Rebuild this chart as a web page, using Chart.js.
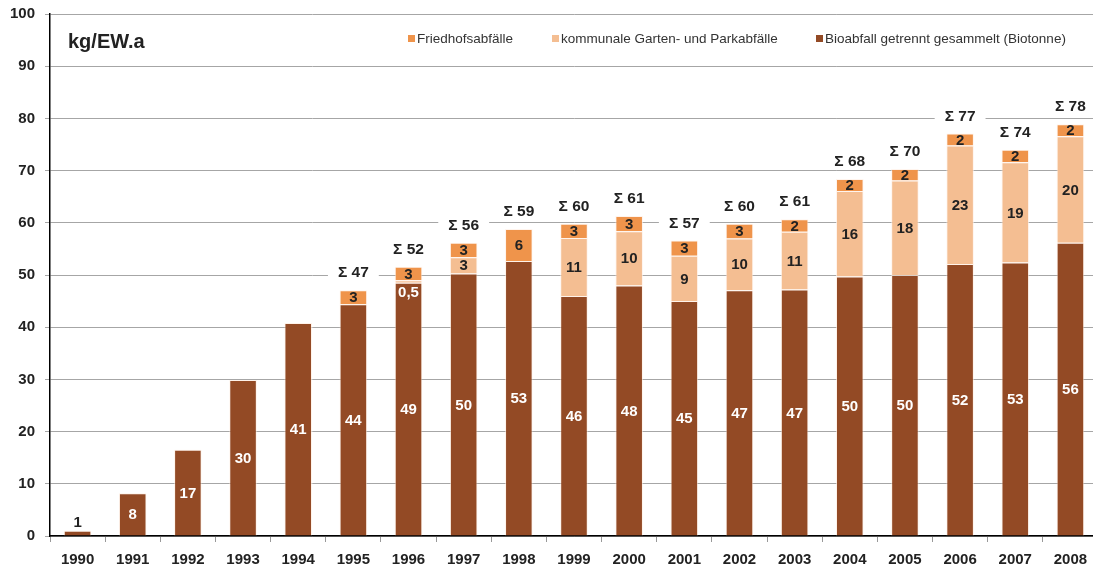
<!DOCTYPE html>
<html>
<head>
<meta charset="utf-8">
<script src="https://cdn.jsdelivr.net/npm/chart.js@4"></script>
<style>
  html, body { margin: 0; padding: 0; background: #fff; overflow: hidden; }
  #wrap { width: 1100px; height: 568px; }
</style>
</head>
<body>
<div id="wrap"><canvas id="bioChart" width="1100" height="568"></canvas></div>
<script>
const years = ['1990', '1991', '1992', '1993', '1994', '1995', '1996', '1997', '1998', '1999',
    '2000', '2001', '2002', '2003', '2004', '2005', '2006', '2007', '2008'];

const bioValues = [1.0, 8.2, 16.5, 29.9, 40.8, 44.4, 48.5, 50.3, 52.7, 46.0,
    48.0, 45.0, 47.1, 47.2, 49.7, 50.0, 52.1, 52.4, 56.2];
const gartenValues = [0, 0, 0, 0, 0, 0, 0.5, 3.1, 0, 11.1,
    10.4, 8.7, 9.9, 11.1, 16.4, 18.1, 22.7, 19.2, 20.4];
const friedValues = [0, 0, 0, 0, 0, 2.7, 2.6, 2.8, 6.1, 2.7,
    2.9, 2.9, 2.8, 2.4, 2.3, 2.2, 2.3, 2.4, 2.3];

const bioLabels = ['1', '8', '17', '30', '41', '44', '49', '50', '53', '46',
    '48', '45', '47', '47', '50', '50', '52', '53', '56'];
const gartenLabels = ['', '', '', '', '', '', '0,5', '3', '', '11',
    '10', '9', '10', '11', '16', '18', '23', '19', '20'];
const friedLabels = ['', '', '', '', '', '3', '3', '3', '6', '3',
    '3', '3', '3', '2', '2', '2', '2', '2', '2'];
const sumLabels = ['', '', '', '', '', '47', '52', '56', '59', '60',
    '61', '57', '60', '61', '68', '70', '77', '74', '78'];

const yTicks = [0, 10, 20, 30, 40, 50, 60, 70, 80, 90, 100];

const FONT = '"Liberation Sans", Arial, sans-serif';

// draws value labels, sums, unit and legend
const labelPlugin = {
    id: 'labels',
    afterDatasetsDraw(chart) {
        const ctx = chart.ctx;
        const area = chart.chartArea;
        const lists = [bioLabels, gartenLabels, friedLabels];
        ctx.save();
        ctx.textAlign = 'center';
        ctx.textBaseline = 'middle';
        ctx.font = 'bold 15px ' + FONT;

        lists.forEach((labels, di) => {
            const meta = chart.getDatasetMeta(di);
            meta.data.forEach((bar, i) => {
                const txt = labels[i];
                if (!txt) return;
                const h = bar.base - bar.y;
                let y = (bar.y + bar.base) / 2;
                let color = di === 0 ? '#ffffff' : '#222222';
                if (di === 0 && h < 12) {
                    y = bar.y - 9;
                    color = '#222222';
                } else if (di === 1 && h < 6) {
                    // too thin, write it into the bar below
                    y = bar.base + 9;
                    color = '#ffffff';
                }
                ctx.fillStyle = color;
                ctx.fillText(txt, bar.x, y + 1);
            });
        });

        // sums with white box over the grid
        const top = chart.getDatasetMeta(2);
        ctx.font = 'bold 15.5px ' + FONT;
        top.data.forEach((bar, i) => {
            if (!sumLabels[i]) return;
            const txt = '\u03A3 ' + sumLabels[i];
            const w = ctx.measureText(txt).width;
            const y = bar.y - 17;
            ctx.fillStyle = '#ffffff';
            ctx.fillRect(bar.x - w / 2 - 10, y - 8, w + 20, 16);
            ctx.fillStyle = '#222222';
            ctx.fillText(txt, bar.x, y);
        });

        // unit
        ctx.textAlign = 'left';
        ctx.font = 'bold 20px ' + FONT;
        ctx.fillStyle = '#222222';
        ctx.fillText('kg/EW.a', area.left + 18, 42);

        // legend
        ctx.font = '13.5px ' + FONT;
        const legendX = [408, 552, 816];
        const order = [2, 1, 0];
        order.forEach((di, k) => {
            const ds = chart.data.datasets[di];
            ctx.fillStyle = ds.backgroundColor;
            ctx.fillRect(legendX[k], 35, 7, 7);
            ctx.fillStyle = '#333333';
            ctx.fillText(ds.label, legendX[k] + 9, 39);
        });
        ctx.restore();
    }
};

new Chart(document.getElementById('bioChart'), {
    type: 'bar',
    data: {
        labels: years,
        datasets: [{
            label: 'Bioabfall getrennt gesammelt (Biotonne)',
            data: bioValues,
            backgroundColor: '#934a25',
            borderColor: 'rgba(255, 235, 220, 0.6)',
            borderWidth: 1,
            barPercentage: 0.5,
            categoryPercentage: 1
        }, {
            label: 'kommunale Garten- und Parkabfälle',
            data: gartenValues,
            backgroundColor: '#f4be92',
            borderColor: 'rgba(255, 240, 230, 0.7)',
            borderWidth: 1,
            barPercentage: 0.5,
            categoryPercentage: 1
        }, {
            label: 'Friedhofsabfälle',
            data: friedValues,
            backgroundColor: '#ef944b',
            borderColor: 'rgba(255, 240, 230, 0.7)',
            borderWidth: 1,
            barPercentage: 0.5,
            categoryPercentage: 1
        }]
    },
    options: {
        responsive: false,
        animation: false,
        layout: {
            padding: { top: 14, right: 2, left: 0, bottom: 0 }
        },
        plugins: {
            legend: { display: false },
            tooltip: { enabled: false }
        },
        scales: {
            x: {
                stacked: true,
                afterFit(axis) {
                    axis.height = 32;
                },
                grid: {
                    offset: true,
                    drawOnChartArea: false,
                    color: '#999999',
                    tickLength: 6
                },
                border: { color: '#000000', width: 1.5 },
                ticks: {
                    color: '#222222',
                    font: { family: FONT, size: 15, weight: 'bold' },
                    padding: 9,
                    maxRotation: 0
                }
            },
            y: {
                stacked: true,
                min: 0,
                max: 100,
                afterBuildTicks(axis) {
                    axis.ticks = yTicks.map(v => ({ value: v }));
                },
                afterFit(axis) {
                    axis.width = 50;
                    axis.paddingTop = 0;
                },
                grid: {
                    color: '#a6a6a6',
                    tickLength: 5
                },
                border: { color: '#000000', width: 1.5 },
                ticks: {
                    color: '#222222',
                    font: { family: FONT, size: 15, weight: 'bold', lineHeight: 1 },
                    padding: 10
                }
            }
        }
    },
    plugins: [labelPlugin]
});
</script>
</body>
</html>
